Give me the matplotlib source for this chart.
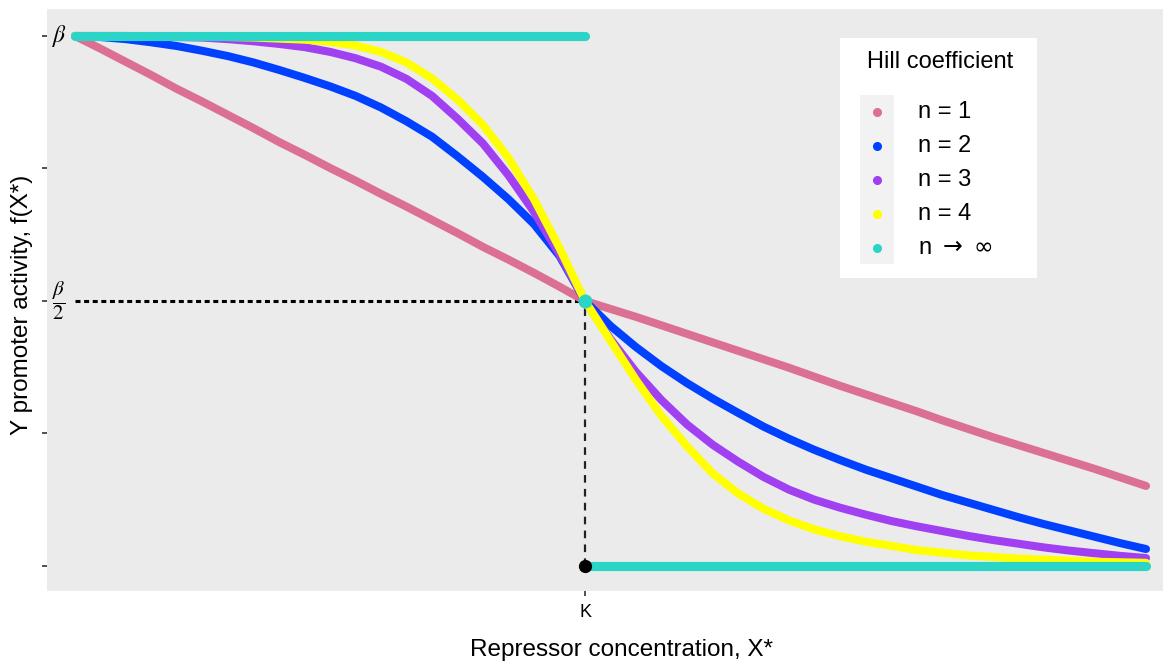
import numpy as np
import matplotlib.pyplot as plt
from matplotlib.patches import Rectangle

plt.rcParams['font.family'] = ['Liberation Sans', 'DejaVu Sans']
plt.rcParams['lines.scale_dashes'] = False

# repressor concentration in units of K
x = [0.00, 0.05, 0.10, 0.15, 0.20, 0.25, 0.30, 0.35, 0.40, 0.45, 0.50,
     0.55, 0.60, 0.65, 0.70, 0.75, 0.80, 0.85, 0.90, 0.95, 1.00,
     1.05, 1.10, 1.15, 1.20, 1.25, 1.30, 1.35, 1.40, 1.45, 1.50,
     1.55, 1.60, 1.65, 1.70, 1.75, 1.80, 1.85, 1.90, 1.95, 2.00,
     2.05, 2.10]

# promoter activity in units of beta, one list per Hill coefficient
n1 = [1.000, 0.976, 0.951, 0.926, 0.900, 0.876, 0.851, 0.826, 0.800, 0.776, 0.751,
      0.727, 0.702, 0.678, 0.653, 0.628, 0.602, 0.578, 0.553, 0.527, 0.500,
      0.485, 0.470, 0.454, 0.438, 0.422, 0.406, 0.390, 0.374, 0.357, 0.340,
      0.324, 0.308, 0.292, 0.275, 0.259, 0.243, 0.228, 0.213, 0.198, 0.183,
      0.167, 0.151]
n2 = [1.000, 0.998, 0.994, 0.988, 0.981, 0.972, 0.962, 0.950, 0.936, 0.921, 0.905,
      0.887, 0.865, 0.839, 0.810, 0.773, 0.734, 0.692, 0.645, 0.585, 0.500,
      0.453, 0.413, 0.377, 0.345, 0.316, 0.289, 0.263, 0.240, 0.219, 0.200,
      0.182, 0.166, 0.150, 0.134, 0.120, 0.106, 0.092, 0.079, 0.067, 0.055,
      0.043, 0.032]
n3 = [1.000, 1.000, 1.000, 0.999, 0.998, 0.997, 0.994, 0.990, 0.985, 0.979, 0.970,
      0.958, 0.942, 0.919, 0.887, 0.844, 0.797, 0.737, 0.668, 0.588, 0.500,
      0.428, 0.366, 0.313, 0.267, 0.229, 0.197, 0.168, 0.144, 0.125, 0.110,
      0.097, 0.085, 0.075, 0.066, 0.057, 0.049, 0.042, 0.035, 0.029, 0.024,
      0.019, 0.015]
n4 = [1.000, 1.000, 1.000, 1.000, 1.000, 0.999, 0.998, 0.997, 0.995, 0.993, 0.989,
      0.982, 0.970, 0.950, 0.920, 0.880, 0.832, 0.770, 0.692, 0.600, 0.500,
      0.425, 0.351, 0.283, 0.226, 0.175, 0.137, 0.108, 0.086, 0.069, 0.056,
      0.046, 0.038, 0.030, 0.025, 0.020, 0.017, 0.014, 0.012, 0.010, 0.008,
      0.007, 0.006]

# n -> infinity: step at K
inf_on_x = [0.0, 1.0]
inf_on_y = [1.0, 1.0]
inf_off_x = [1.0, 2.1]
inf_off_y = [0.0, 0.0]

K = 1.0
half = 0.5

labels = ['n = 1', 'n = 2', 'n = 3', 'n = 4', r'n $\rightarrow$ $\infty$']
colors = ['#DB7093', '#0040FF', '#A040F0', '#FFFF00', '#2AD4C6']

W, H = 1163, 666
fig = plt.figure(figsize=(W / 100, H / 100), dpi=100)
ax = fig.add_axes([47 / W, 75 / H, 1116 / W, 582 / H])
ax.set_facecolor('#EBEBEB')
for s in ax.spines.values():
    s.set_visible(False)

ax.set_xlim(-0.0549, 2.1333)
ax.set_ylim(-0.0472, 1.0509)

# guide lines to K and beta/2
ax.plot([0, K], [half, half], color='black', lw=2.2, ls=(0, (3.6, 2.6)), zorder=2)
ax.plot([K, K], [0, half], color='#222222', lw=1.6, ls=(0, (5.5, 4.5)), zorder=2)

lw = 5.8
for ys, c in zip([n1, n2, n3, n4], colors[:4]):
    ax.plot(x, ys, color=c, lw=lw, solid_capstyle='round', solid_joinstyle='round', zorder=3)
ax.plot(inf_on_x, inf_on_y, color=colors[4], lw=6.6, solid_capstyle='round', zorder=4)
ax.plot(inf_off_x, inf_off_y, color=colors[4], lw=6.6, solid_capstyle='round', zorder=4)

ax.plot([K], [half], 'o', color=colors[4], ms=9, zorder=5)
ax.plot([K], [0], 'o', color='black', ms=8.5, zorder=5)

ax.set_yticks([0, 0.25, 0.5, 0.75, 1.0])
ax.set_yticklabels([])
ax.set_xticks([K])
ax.set_xticklabels(['K'], fontsize=13)
ax.tick_params(axis='both', length=3.5, width=1.2, color='#333333', pad=6)

ax.text(-0.046, 1.0, r'$\beta$', fontsize=17, va='center', ha='left', math_fontfamily='stix')
ax.text(-0.046, half, r'$\dfrac{\beta}{2}$', fontsize=15, va='center', ha='left', math_fontfamily='stix')

fig.text(621 / W, 1 - 650 / H, 'Repressor concentration, X*', fontsize=17.5,
         ha='center', va='center')
fig.text(22 / W, 1 - 305 / H, 'Y promoter activity, f(X*)', fontsize=17.5,
         ha='center', va='center', rotation=90)

# legend box
lg = fig.add_axes([840 / W, 1 - 278 / H, 197 / W, 240 / H])
lg.set_xlim(0, 197)
lg.set_ylim(240, 0)
lg.set_facecolor('white')
for s in lg.spines.values():
    s.set_visible(False)
lg.set_xticks([])
lg.set_yticks([])
lg.add_patch(Rectangle((20, 57), 34, 169, facecolor='#F2F2F2', edgecolor='none'))
lg.text(100, 24, 'Hill coefficient', fontsize=17, ha='center', va='center')
for i, (lab, c) in enumerate(zip(labels, colors)):
    yy = 74 + 34 * i
    lg.plot([37], [yy], 'o', color=c, ms=5.5)
    lg.text(78, yy, lab, fontsize=17, ha='left', va='center', math_fontfamily='dejavusans')

fig.savefig('out.png', dpi=100, facecolor='white')
